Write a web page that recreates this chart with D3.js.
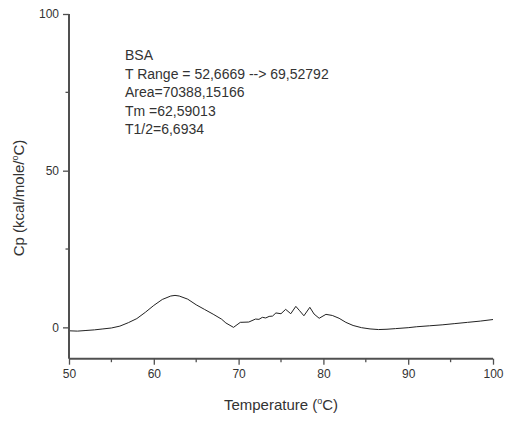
<!DOCTYPE html>
<html>
<head>
<meta charset="utf-8">
<script src="https://cdn.jsdelivr.net/npm/d3@7"></script>
<style>
  html, body { margin: 0; padding: 0; background: #fff; }
  svg text { font-family: "Liberation Sans", Arial, Helvetica, sans-serif; fill: #333; }
</style>
</head>
<body>
<svg id="chart" width="505" height="421"></svg>
<script>
// DSC thermogram of BSA: temperature (°C) vs excess heat capacity (kcal/mole/°C)
const temperature = [50, 51, 52, 53, 54, 55, 56, 57, 58, 59, 60, 61, 62, 62.5, 63, 64, 65, 66, 67, 68, 68.5,
  69.4, 70.2, 71.2, 72.0, 72.4, 72.8, 73.2, 73.6, 74.0, 74.4, 75.0, 75.55, 76.15, 76.75, 77.2, 77.7,
  78.4, 78.9, 79.5, 80.3, 81.05, 81.85, 82.65, 83.5, 84.5, 85.5, 86.5, 87.5, 88.5, 90, 91, 92.5, 94,
  95.5, 97, 98.5, 100];
const cp = [-1.1, -1.2, -1.0, -0.8, -0.5, -0.2, 0.4, 1.5, 2.8, 4.8, 7.0, 8.9, 10.0, 10.2, 10.0, 9.0, 7.2,
  5.7, 4.2, 2.6, 1.4, 0.0, 1.6, 1.7, 2.65, 2.55, 3.2, 3.0, 3.5, 3.6, 4.6, 4.35, 5.75, 4.35, 6.7, 5.3, 3.7,
  6.4, 4.25, 2.9, 4.15, 3.8, 2.9, 1.6, 0.6, -0.1, -0.5, -0.7, -0.6, -0.4, -0.1, 0.2, 0.5, 0.8, 1.2, 1.6,
  2.0, 2.5];

const xMajorTicks = [50, 60, 70, 80, 90, 100];
const xMinorTicks = [55, 65, 75, 85, 95];
const yMajorTicks = [0, 50, 100];
const yMinorTicks = [25, 75];

const annotation = [
  "BSA",
  "T Range = 52,6669 --> 69,52792",
  "Area=70388,15166",
  "Tm =62,59013",
  "T1/2=6,6934"
];

const svg = d3.select("#chart");
const axisColor = "#505050";

const x = d3.scaleLinear().domain([50, 100]).range([69, 493]);
const y = d3.scaleLinear().domain([-10, 100]).range([358.7, 14]);

// Curve
const line = d3.line()
  .x((d, i) => x(temperature[i]))
  .y(d => y(d));
svg.append("path")
  .datum(cp)
  .attr("d", line)
  .attr("fill", "none")
  .attr("stroke", "#222")
  .attr("stroke-width", 1)
  .attr("stroke-linejoin", "round");

// Bottom axis
const xAxis = svg.append("g").attr("transform", `translate(0,${y(-10)})`);
xAxis.call(d3.axisBottom(x).tickValues(xMajorTicks).tickSize(6).tickPadding(5).tickFormat(d3.format("d")));
xAxis.append("g").selectAll("line").data(xMinorTicks).join("line")
  .attr("x1", d => x(d)).attr("x2", d => x(d)).attr("y1", 0).attr("y2", 3.5);
xAxis.select(".domain").attr("d", `M${x(50)},0H${x(100)}`);

// Left axis
const yAxis = svg.append("g").attr("transform", `translate(${x(50)},0)`);
yAxis.call(d3.axisLeft(y).tickValues(yMajorTicks).tickSize(6).tickPadding(4).tickFormat(d3.format("d")));
yAxis.append("g").selectAll("line").data(yMinorTicks).join("line")
  .attr("x1", 0).attr("x2", -3.5).attr("y1", d => y(d)).attr("y2", d => y(d));
yAxis.select(".domain").attr("d", `M0,${y(-10)}V${y(100)}`);

[xAxis, yAxis].forEach(g => {
  g.selectAll(".domain").attr("stroke", axisColor).attr("stroke-width", 2);
  g.selectAll("line").attr("stroke", axisColor).attr("stroke-width", 1.3);
  g.selectAll("text").attr("font-size", 12).attr("fill", "#333");
});

// Axis titles
const xTitle = svg.append("text")
  .attr("x", 281).attr("y", 410)
  .attr("text-anchor", "middle")
  .attr("font-size", 15);
xTitle.append("tspan").text("Temperature (");
xTitle.append("tspan").text("o").attr("font-size", 9).attr("dy", -6);
xTitle.append("tspan").text("C)").attr("dy", 6);

const yTitle = svg.append("text")
  .attr("transform", "translate(24,198) rotate(-90)")
  .attr("text-anchor", "middle")
  .attr("font-size", 15);
yTitle.append("tspan").text("Cp (kcal/mole/");
yTitle.append("tspan").text("o").attr("font-size", 9).attr("dy", -6);
yTitle.append("tspan").text("C)").attr("dy", 6);

// Fit results
svg.append("g").selectAll("text").data(annotation).join("text")
  .attr("x", 125)
  .attr("y", (d, i) => 60 + i * 18.5)
  .attr("font-size", 14)
  .text(d => d);
</script>
</body>
</html>
